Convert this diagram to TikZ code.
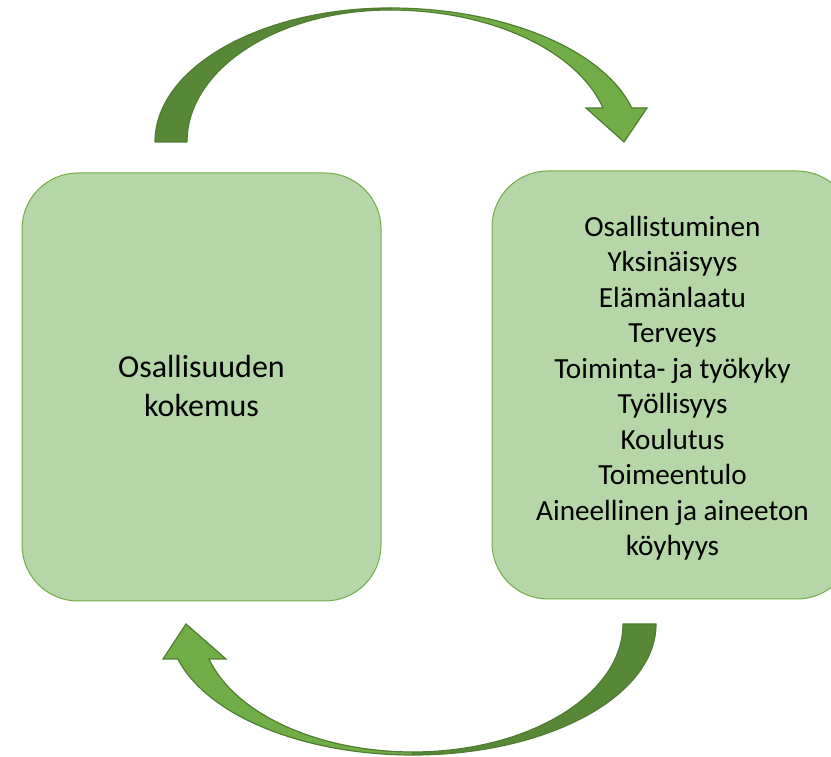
\documentclass[tikz,border=0pt]{standalone}
\usepackage{fontspec}
\setmainfont{Carlito}
\definecolor{boxfill}{HTML}{B5D6A7}
\definecolor{boxline}{HTML}{70AD47}
\definecolor{arrdark}{HTML}{568838}
\definecolor{arrlight}{HTML}{70AD47}
\definecolor{arrline}{HTML}{507E32}
\begin{document}
\begin{tikzpicture}[x=1pt,y=1pt,
  boxstyle/.style={draw=boxline, line width=1pt, fill=boxfill, rounded corners=56pt,
    minimum height=428pt, align=center, inner sep=0pt,
    font=\fontsize{29.2}{35.5}\selectfont},
  arrowdark/.style={fill=arrdark, draw=arrline, line width=1.2pt, line join=round},
  arrowlight/.style={fill=arrlight, draw=arrline, line width=1.2pt, line join=miter}]
\useasboundingbox (0,0) rectangle (831,757);
\clip (0,0) rectangle (831,757);
% boxes
\node[boxstyle, minimum width=359pt, font=\fontsize{32}{39}\selectfont] (left) at (201.5,370)
  {\raisebox{-2pt}[\height][\depth]{\begin{tabular}{@{}c@{}}Osallisuuden\\kokemus\end{tabular}}};
\node[boxstyle, minimum width=361pt] (right) at (672.5,372)
  {\raisebox{-4pt}[\height][\depth]{\begin{tabular}{@{}c@{}}Osallistuminen\\Yksinäisyys\\Elämänlaatu\\Terveys\\Toiminta- ja työkyky\\Työllisyys\\Koulutus\\Toimeentulo\\Aineellinen ja aineeton\\köyhyys\end{tabular}}};
% top arrow (light part)
\path[arrowlight] (390,749) arc[start angle=90, end angle=14.7, x radius=250, y radius=134]
  -- (647,649) -- (624,615) -- (586,649) -- (603,649)
  arc[start angle=14.93, end angle=90, x radius=220, y radius=132] -- cycle;
% top arrow (dark part)
\path[arrowdark] (155,615) arc[start angle=180, end angle=90, x radius=235, y radius=134]
  -- (390,747) arc[start angle=90, end angle=180, x radius=203, y radius=132] -- cycle;
% bottom arrow (light part)
\path[arrowlight] (413,2) arc[start angle=270, end angle=195.5, x radius=244, y radius=131]
  -- (163,98) -- (186,133) -- (226,98) -- (209,98)
  arc[start angle=195.87, end angle=270, x radius=212, y radius=128] -- cycle;
% bottom arrow (dark part)
\path[arrowdark] (656,133) arc[start angle=0, end angle=-90, x radius=243, y radius=131]
  -- (413,5) arc[start angle=-90, end angle=0, x radius=210, y radius=128] -- cycle;
\end{tikzpicture}
\end{document}
